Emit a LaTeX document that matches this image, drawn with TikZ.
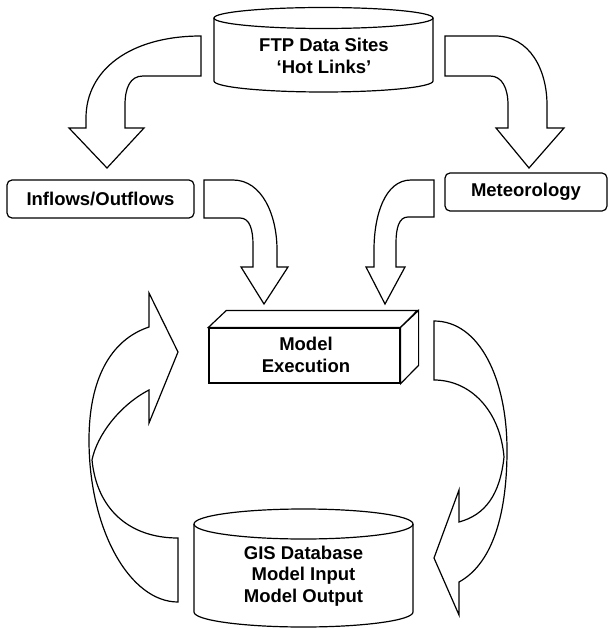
\documentclass[tikz,border=0pt]{standalone}
\usepackage{fontspec}
\setmainfont{Liberation Sans}
\begin{document}
\begin{tikzpicture}[x=1pt,y=-1pt,line width=1.2pt,line join=miter,
  lbl/.style={font=\fontsize{18.5}{21.5}\selectfont\bfseries,align=center,inner sep=0pt},
  blockarrow/.style={draw=black,fill=white},
  roundbox/.style={draw=black,fill=white,rounded corners=5pt,inner sep=0pt},
  facebox/.style={draw=black,fill=white,inner sep=0pt}]
\useasboundingbox (0,0) rectangle (608,628);

% FTP cylinder
\draw[fill=white] (214,18) -- (214,81) arc[start angle=180,end angle=360,x radius=109.5pt,y radius=11pt] -- (433,18);
\draw (323.5,18) ellipse [x radius=109.5pt, y radius=10.5pt];
\node[lbl] (ftp) at (324,56) {FTP Data Sites\\‘Hot Links’};

% GIS cylinder
\draw[fill=white] (194,524) -- (194,612) arc[start angle=180,end angle=360,x radius=109.5pt,y radius=15pt] -- (413,524);
\draw (303.5,524) ellipse [x radius=109.5pt, y radius=15pt];
\node[lbl] (gis) at (303.5,576) {GIS Database\\Model Input\\Model Output};

% boxes
\node[roundbox,minimum width=187pt,minimum height=38pt] (inflow) at (100.5,199) {};
\node[lbl] at (inflow.center) {Inflows/Outflows};
\node[roundbox,minimum width=162pt,minimum height=38pt] (met) at (526,192) {};
\node[lbl] at (met.center) {Meteorology};

% Model execution 3D box
\node[facebox,minimum width=191pt,minimum height=55pt] (model) at (304.5,355.5) {};
\draw[fill=white] (model.north west) -- ++(18,-17) -- ++(191,0) -- (model.north east) -- cycle;
\draw[fill=white] (model.north east) -- ++(18,-17) -- ++(0,55) -- (model.south east) -- cycle;
\node[lbl] (modeltext) at (306,355) {Model\\Execution};

% FTP -> Inflows
\draw[blockarrow] (201,36) -- (201,76) -- (143,76) .. controls (130,76) and (125,88) .. (125,105)
  -- (125,128) -- (144,128) -- (107,168) -- (69,128) -- (86,128) -- (86,118)
  .. controls (86,70) and (130,36) .. (201,36) -- cycle;

% FTP -> Meteorology
\draw[blockarrow] (445,36) -- (445,76) -- (490,76) .. controls (502,76) and (508,88) .. (508,105)
  -- (508,128) -- (496,128) -- (529,168) -- (564,128) -- (547,128) -- (547,105)
  .. controls (547,70) and (530,36) .. (495,36) -- cycle;

% Inflows -> Model
\draw[blockarrow] (204,180) -- (204,218) -- (240,218) .. controls (250,218) and (253,230) .. (253,245)
  -- (253,267) -- (241,267) -- (264,304) -- (288,267) -- (277,267) -- (277,250)
  .. controls (277,215) and (262,180) .. (233,180) -- cycle;

% Meteorology -> Model
\draw[blockarrow] (434,180) -- (434,217) -- (408,217) .. controls (399,217) and (396,228) .. (396,243)
  -- (396,267) -- (405,267) -- (385,304) -- (366,267) -- (374,267) -- (374,250)
  .. controls (374,215) and (385,180) .. (411,180) -- cycle;

% left loop (GIS -> Model)
\draw[blockarrow] (178,538) -- (178,602) .. controls (130,602) and (89,530) .. (89,440)
  .. controls (89,380) and (110,340) .. (149,327) -- (149,293) -- (178,352) -- (149,423) -- (149,390)
  .. controls (120,405) and (97,435) .. (92,460) .. controls (97,510) and (130,538) .. (178,538) -- cycle;

% right loop (Model -> GIS)
\draw[blockarrow] (434,321) -- (434,380) .. controls (470,380) and (500,410) .. (504,457)
  .. controls (500,495) and (485,515) .. (459,522) -- (459,490) -- (434,558) -- (459,615) -- (459,582)
  .. controls (490,565) and (507,520) .. (507,450) .. controls (507,380) and (480,321) .. (434,321) -- cycle;
\end{tikzpicture}
\end{document}
